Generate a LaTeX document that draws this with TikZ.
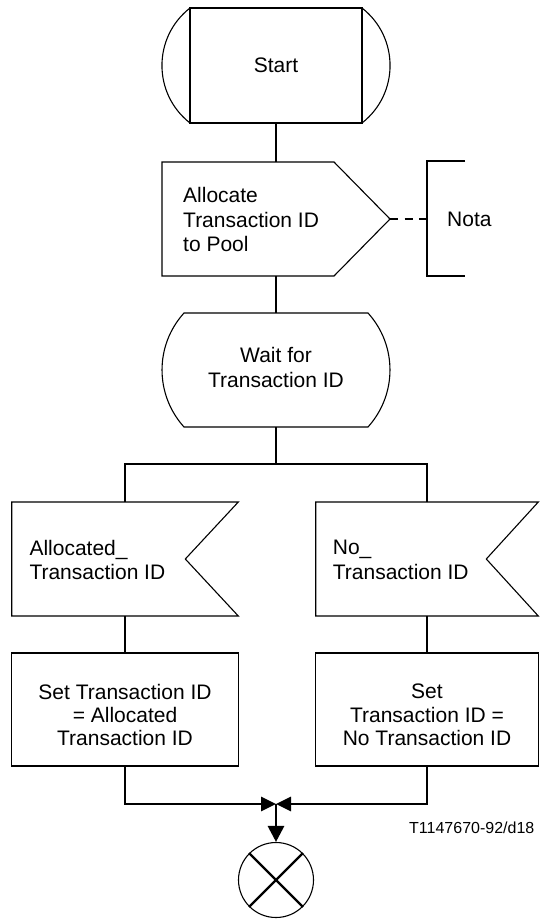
\documentclass[tikz,border=0pt]{standalone}
\usepackage{fontspec}
\setmainfont{Liberation Sans}
\usetikzlibrary{arrows.meta,calc}
\begin{document}
\begin{tikzpicture}[x=1pt,y=-1pt,
  outline/.style={draw=black,line width=1.1pt},
  conn/.style={draw=black,line width=2.9pt},
  shapebox/.style={inner sep=0pt,outer sep=0pt},
  txt/.style={font=\fontsize{21}{24.5}\selectfont,inner sep=0pt,align=left},
  ctxt/.style={font=\fontsize{21}{24.5}\selectfont,inner sep=0pt,align=center},
  stxt/.style={font=\fontsize{21}{23.4}\selectfont,inner sep=0pt,align=center},
  tip/.style={-{Triangle[length=15pt,width=14pt]}},
  dtip/.style={-{Triangle[length=16pt,width=16pt]}}
]
\useasboundingbox (0,0) rectangle (539,919);

% Start
\node[shapebox,ctxt,minimum width=172,minimum height=115] (start) at (276,65.5) {Start};
\draw[outline] (start.north west) rectangle (start.south east);
\draw[outline] (start.north west) .. controls (152.6,37.3) and (152.6,93.7) .. (start.south west);
\draw[outline] (start.north east) .. controls (399.4,37.3) and (399.4,93.7) .. (start.south east);

% Allocate (output)
\node[shapebox,minimum width=228,minimum height=114] (alloc) at (276,219) {};
\draw[outline] (alloc.north west) -- ($(alloc.north east)+(-56,0)$) -- (alloc.east)
  -- ($(alloc.south east)+(-56,0)$) -- (alloc.south west) -- cycle;
\node[txt,anchor=west] (allocT) at (183,219.5) {Allocate\\Transaction ID\\to Pool};

% Nota
\coordinate (notaBr) at (427,219);
\draw[conn,dash pattern=on 8pt off 6.5pt] (alloc.east) -- (notaBr);
\draw[conn] ($(notaBr)+(38,-58)$) -- ($(notaBr)+(0,-58)$) -- ($(notaBr)+(0,57)$) -- ($(notaBr)+(38,57)$);
\node[txt,anchor=west] (nota) at (447,219) {Nota};

% Wait (state)
\node[shapebox,minimum width=228,minimum height=114] (wait) at (276,370) {};
\draw[outline] (184,313) -- (368,313) .. controls (397.3,345.4) and (397.3,394.4) .. (368,427)
  -- (184,427) .. controls (154.7,394.4) and (154.7,345.4) .. (184,313) -- cycle;
\node[ctxt] (waitT) at (276,367.4) {Wait for\\Transaction ID};

% Inputs
\node[shapebox,minimum width=226.6,minimum height=114] (inL) at (125,559) {};
\draw[outline] (inL.north west) -- (inL.north east) -- ($(inL.east)+(-53,0)$)
  -- (inL.south east) -- (inL.south west) -- cycle;
\node[txt,anchor=west] (inLT) at (29.3,560) {Allocated\_\\Transaction ID};

\node[shapebox,minimum width=222.6,minimum height=114] (inR) at (427,559) {};
\draw[outline] (inR.north west) -- (inR.north east) -- ($(inR.east)+(-52,0)$)
  -- (inR.south east) -- (inR.south west) -- cycle;
\node[txt,anchor=west] (inRT) at (332.7,560) {No\_\\Transaction ID};

% Tasks
\node[shapebox,draw,line width=1.1pt,minimum width=226.6,minimum height=113] (setL) at (125,709.5) {};
\node[stxt] (setLT) at (125,715) {Set Transaction ID\\= Allocated\\Transaction ID};
\node[shapebox,draw,line width=1.1pt,minimum width=222.6,minimum height=113] (setR) at (427,709.5) {};
\node[stxt] (setRT) at (427,715) {Set\\Transaction ID =\\No Transaction ID};

% Stop
\node[circle,draw,line width=1.1pt,minimum size=75,inner sep=0pt] (stop) at (276,880) {};
\draw[line width=2.4pt] (stop.north west) -- (stop.south east);
\draw[line width=2.4pt] (stop.north east) -- (stop.south west);

% Reference label
\node[font=\fontsize{16}{19}\selectfont,inner sep=0pt,anchor=base west] (ref) at (409,833) {T1147670-92/d18};

% Connectors
\coordinate (split) at (276,464);
\coordinate (merge) at (276,804);
\draw[conn] (start.south) -- (alloc.north);
\draw[conn] (alloc.south) -- (wait.north);
\draw[conn] (wait.south) -- (split);
\draw[conn] (inL.north) |- (split) -| (inR.north);
\draw[conn] (inL.south) -- (setL.north);
\draw[conn] (inR.south) -- (setR.north);
\draw[conn,tip] (setL.south) |- (merge);
\draw[conn,tip] (setR.south) |- (merge);
\draw[conn,dtip] (merge) -- (stop.north);
\end{tikzpicture}
\end{document}
